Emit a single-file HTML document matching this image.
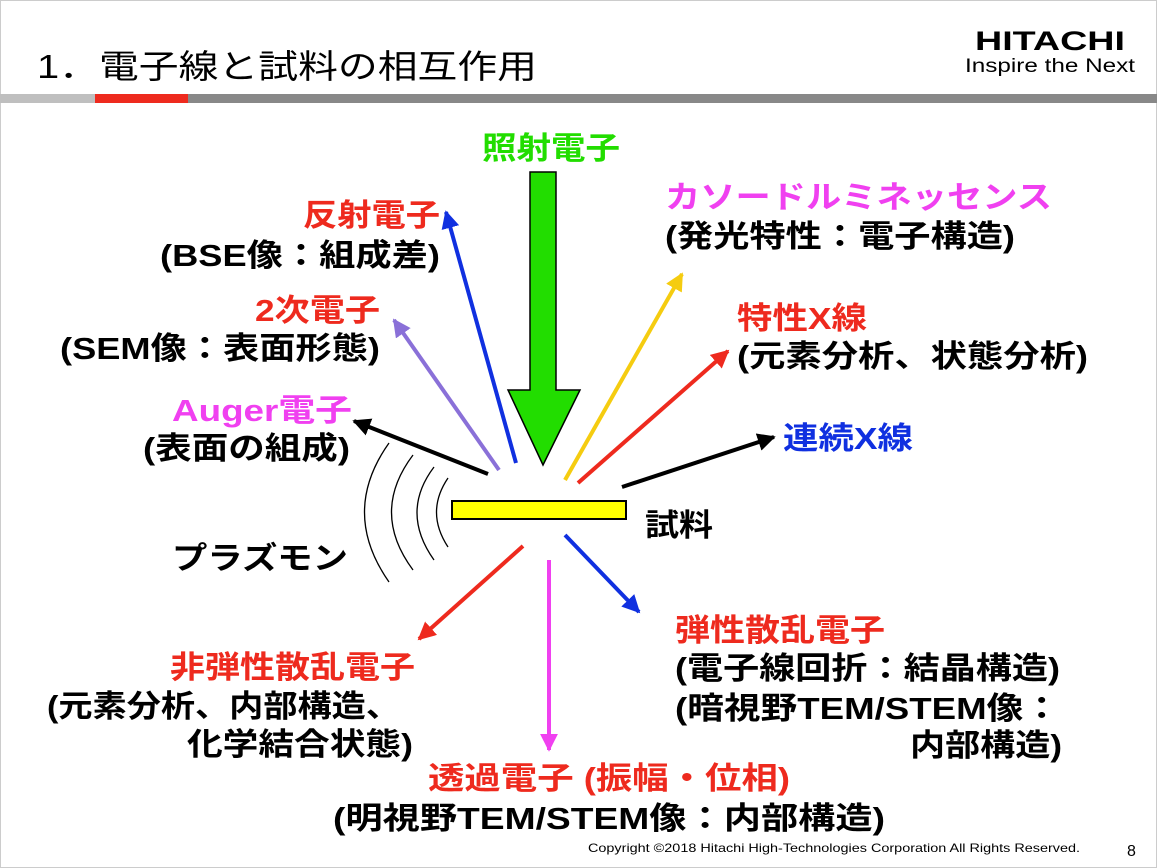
<!DOCTYPE html>
<html><head><meta charset="utf-8"><style>
html,body{margin:0;padding:0;background:#fff;}
svg{display:block;}
text{font-family:"Liberation Sans","Noto Sans CJK JP",sans-serif;}
.b{font-weight:bold;font-size:31px;}
</style></head><body>
<svg width="1157" height="868" viewBox="0 0 1157 868">
<defs>
<marker id="mk" viewBox="0 0 10 10" refX="9" refY="5" markerWidth="4.5" markerHeight="4.5" orient="auto" markerUnits="strokeWidth"><path d="M0,0L10,5L0,10z" fill="context-stroke"/></marker>
</defs>
<rect x="0.5" y="0.5" width="1156" height="867" fill="#fff" stroke="#ccc"/>
<text x="37" y="78" font-size="33" textLength="500" lengthAdjust="spacingAndGlyphs">1．電子線と試料の相互作用</text>
<text x="975" y="50" font-size="27" font-weight="bold" textLength="150" lengthAdjust="spacingAndGlyphs">HITACHI</text>
<text x="965" y="72" font-size="19" textLength="170" lengthAdjust="spacingAndGlyphs">Inspire the Next</text>
<rect x="0" y="94" width="95" height="9" fill="#bfbfbf"/>
<rect x="95" y="94" width="93" height="9" fill="#ee2a1e"/>
<rect x="188" y="94" width="969" height="9" fill="#888"/>

<!-- green arrow -->
<path d="M530,172H556V390H580L543,465L508,390H530Z" fill="#22dd00" stroke="#000" stroke-width="1.5"/>
<g stroke-width="4" fill="none">
<line x1="516" y1="463" x2="446" y2="212" stroke="#1030e0" marker-end="url(#mk)"/>
<line x1="499" y1="470" x2="394" y2="320" stroke="#8a70d8" marker-end="url(#mk)"/>
<line x1="488" y1="474" x2="354" y2="421" stroke="#000" marker-end="url(#mk)"/>
<line x1="565" y1="480" x2="682" y2="274" stroke="#f5cc10" marker-end="url(#mk)"/>
<line x1="578" y1="483" x2="728" y2="351" stroke="#ee2a1e" marker-end="url(#mk)"/>
<line x1="622" y1="487" x2="774" y2="437" stroke="#000" marker-end="url(#mk)"/>
<line x1="523" y1="546" x2="419" y2="639" stroke="#ee2a1e" marker-end="url(#mk)"/>
<line x1="549" y1="560" x2="549" y2="750" stroke="#f040f0" marker-end="url(#mk)"/>
<line x1="565" y1="535" x2="639" y2="612" stroke="#1030e0" marker-end="url(#mk)"/>
</g>
<g stroke="#000" stroke-width="1.3" fill="none">
<path d="M389,443Q340,512 389,582"/>
<path d="M413,455Q370,512 413,570"/>
<path d="M434,467Q400,512 434,560"/>
<path d="M448,478Q425,512 448,547"/>
</g>
<rect x="452" y="501" width="174" height="18" fill="#ffff00" stroke="#000" stroke-width="2"/>

<text class="b" x="482" y="159" fill="#22dd00" textLength="138" lengthAdjust="spacingAndGlyphs">照射電子</text>
<text class="b" x="303" y="226" fill="#ee2a1e" textLength="137" lengthAdjust="spacingAndGlyphs">反射電子</text>
<text class="b" x="160" y="266" textLength="280" lengthAdjust="spacingAndGlyphs">(BSE像：組成差)</text>
<text class="b" x="255" y="321" fill="#ee2a1e" textLength="125" lengthAdjust="spacingAndGlyphs">2次電子</text>
<text class="b" x="60" y="359" textLength="320" lengthAdjust="spacingAndGlyphs">(SEM像：表面形態)</text>
<text class="b" x="172" y="421" fill="#f040f0" textLength="180" lengthAdjust="spacingAndGlyphs">Auger電子</text>
<text class="b" x="143" y="459" textLength="207" lengthAdjust="spacingAndGlyphs">(表面の組成)</text>
<text class="b" x="172" y="569" textLength="176" lengthAdjust="spacingAndGlyphs">プラズモン</text>
<text class="b" x="645" y="536" font-size="27" textLength="68" lengthAdjust="spacingAndGlyphs">試料</text>
<text class="b" x="665" y="208" fill="#f040f0" textLength="387" lengthAdjust="spacingAndGlyphs">カソードルミネッセンス</text>
<text class="b" x="665" y="247" textLength="350" lengthAdjust="spacingAndGlyphs">(発光特性：電子構造)</text>
<text class="b" x="737" y="329" fill="#ee2a1e" textLength="130" lengthAdjust="spacingAndGlyphs">特性X線</text>
<text class="b" x="737" y="367" textLength="351" lengthAdjust="spacingAndGlyphs">(元素分析、状態分析)</text>
<text class="b" x="783" y="449" fill="#1030e0" textLength="130" lengthAdjust="spacingAndGlyphs">連続X線</text>
<text class="b" x="675" y="641" fill="#ee2a1e" textLength="210" lengthAdjust="spacingAndGlyphs">弾性散乱電子</text>
<text class="b" x="675" y="679" textLength="385" lengthAdjust="spacingAndGlyphs">(電子線回折：結晶構造)</text>
<text class="b" x="675" y="719" textLength="385" lengthAdjust="spacingAndGlyphs">(暗視野TEM/STEM像：</text>
<text class="b" x="910" y="756" textLength="152" lengthAdjust="spacingAndGlyphs">内部構造)</text>
<text class="b" x="170" y="678" fill="#ee2a1e" textLength="245" lengthAdjust="spacingAndGlyphs">非弾性散乱電子</text>
<text class="b" x="47" y="717" textLength="353" lengthAdjust="spacingAndGlyphs">(元素分析、内部構造、</text>
<text class="b" x="187" y="755" textLength="226" lengthAdjust="spacingAndGlyphs">化学結合状態)</text>
<text class="b" x="428" y="789" fill="#ee2a1e" textLength="362" lengthAdjust="spacingAndGlyphs">透過電子 (振幅・位相)</text>
<text class="b" x="333" y="829" textLength="552" lengthAdjust="spacingAndGlyphs">(明視野TEM/STEM像：内部構造)</text>
<text x="588" y="852" font-size="12" textLength="492" lengthAdjust="spacingAndGlyphs">Copyright ©2018 Hitachi High-Technologies Corporation All Rights Reserved.</text>
<text x="1127" y="856" font-size="16">8</text>
</svg>
</body></html>
